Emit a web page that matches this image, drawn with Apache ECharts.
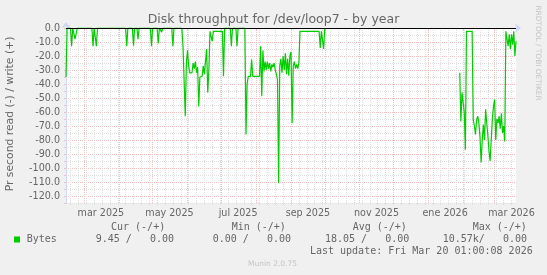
<!DOCTYPE html>
<html><head><meta charset="utf-8">
<script src="https://cdn.jsdelivr.net/npm/echarts@6/dist/echarts.min.js"></script>
<style>html,body{margin:0;padding:0;background:#F0F0F0}#c{width:547px;height:275px}</style>
</head><body><div id="c"></div>
<script>
// ---- data ----
const startDate = '2025-02-13';
const endDate = '2026-03-20';
const monthNames = ['ene','feb','mar','abr','may','jun','jul','ago','sep','oct','nov','dic'];
const yLabelStep = 10;

const readDates = [
 '2025-02-13','2025-02-14','2025-02-17','2025-02-18','2025-02-19','2025-02-20','2025-02-21','2025-02-22','2025-02-23',
 '2025-03-08','2025-03-09','2025-03-10','2025-03-11','2025-03-12','2025-03-13',
 '2025-04-07','2025-04-08','2025-04-09','2025-04-13','2025-04-14','2025-04-15','2025-04-17','2025-04-18','2025-04-19',
 '2025-04-29','2025-04-30','2025-05-01','2025-05-05','2025-05-06','2025-05-07','2025-05-08','2025-05-09','2025-05-10',
 '2025-05-18','2025-05-19','2025-05-20','2025-05-27','2025-05-28','2025-05-29','2025-05-30','2025-05-31',
 '2025-06-01','2025-06-02','2025-06-03','2025-06-04','2025-06-05','2025-06-06','2025-06-07','2025-06-08','2025-06-09',
 '2025-06-10','2025-06-11','2025-06-12','2025-06-13','2025-06-14','2025-06-15','2025-06-16','2025-06-17','2025-06-18',
 '2025-06-19','2025-06-20','2025-06-21','2025-06-22','2025-06-23','2025-06-24',
 '2025-07-02','2025-07-03','2025-07-04','2025-07-09','2025-07-10','2025-07-11','2025-07-14','2025-07-15','2025-07-16',
 '2025-07-22','2025-07-23','2025-07-24','2025-07-25','2025-07-27','2025-07-28','2025-07-29',
 '2025-08-04','2025-08-05','2025-08-06','2025-08-07','2025-08-08','2025-08-09','2025-08-10','2025-08-11','2025-08-12',
 '2025-08-13','2025-08-14','2025-08-15','2025-08-16','2025-08-17','2025-08-18','2025-08-19','2025-08-20','2025-08-21',
 '2025-08-22','2025-08-23','2025-08-24','2025-08-25','2025-08-26','2025-08-27','2025-08-28','2025-08-29','2025-08-30',
 '2025-08-31','2025-09-01','2025-09-02','2025-09-03','2025-09-04','2025-09-05','2025-09-06','2025-09-07','2025-09-08',
 '2025-09-09','2025-09-26','2025-09-27','2025-09-28','2025-09-29','2025-09-30','2025-10-01','2025-10-02',
 '2026-01-29','2026-01-30','2026-01-31','2026-02-01','2026-02-02','2026-02-03','2026-02-04','2026-02-09',
 '2026-02-10','2026-02-11','2026-02-12','2026-02-13','2026-02-14','2026-02-15','2026-02-16','2026-02-17','2026-02-18',
 '2026-02-19','2026-02-20','2026-02-21','2026-02-22','2026-02-23','2026-02-24','2026-02-25','2026-02-26','2026-02-27',
 '2026-02-28','2026-03-01','2026-03-02','2026-03-03','2026-03-04','2026-03-05','2026-03-06','2026-03-07','2026-03-08',
 '2026-03-09','2026-03-10','2026-03-11','2026-03-12','2026-03-13','2026-03-14','2026-03-15','2026-03-16','2026-03-17',
 '2026-03-18','2026-03-19','2026-03-20'
];
const readValues = [
 -35,0,0,-13,0,0,-8,-8,0,
 0,-13,0,0,-13,0,
 0,-13,0,0,-12.7,0,0,-8,0,
 0,-13,0,0,-11,0,-1.5,-3,0,
 0,-13,0,0,-13,-13,-63,-25,
 -16,-27,-32,-32,-32,-25,-29,-24,-32,
 -28,-56,-35,-34.5,-34.5,-27,-33,-24,-15,
 -46,-30,-2.4,-2.4,-9.5,-2.4,
 -2.4,-34.5,0,0,-13,0,0,-13,0,
 0,-76,-40,-34.5,-34.5,-22.6,-34.5,
 -34.5,-13,-48.8,-16,-31,-24,-30,-24,-29,
 -25,-31,-26,-28,-25,-30,-33,-37,-110.7,
 -27,-22,-32,-20,-30,-18,-33,-22,-34,
 -20,-17,-68,-27,-24,-29,-26,-29,-25,
 -2.4,-2.4,-14.3,-2.4,-2.4,-15,0,null,
 -32,-66.7,-46,-46,-60,-87,-2.4,-2.4,
 -65.5,-70,-76,-65.5,-63,-68,-78,-96,-80,
 -69,-80,-58,-68,-77,-88,-95,-95,-65,
 -56,-51,-80,-65,-68,-63,-72,-61,-75,
 -70,-81,-2.4,-2.4,-13,-4.5,-15,-4.5,-12,
 -2.4,-20,-9.45
];

// ---- build ----
const days = [];
for (let t = Date.parse(startDate + 'T00:00:00Z'); t <= Date.parse(endDate + 'T00:00:00Z'); t += 86400000) {
  days.push(new Date(t).toISOString().slice(0, 10));
}
const isMonthStart = (i) => days[i].slice(8) === '01';
const isMonday = (i) => new Date(days[i] + 'T00:00:00Z').getUTCDay() === 1;
const isLabelDay = (i) => days[i].slice(8) === '16' && (parseInt(days[i].slice(5, 7), 10) - 1) % 2 === 0;

const FONT = 'DejaVu Sans';
const MONO = 'DejaVu Sans Mono';
const TXT = '#666666';
const AXIS = '#CFD6F8';
const MGRID = '#EFC0C0';
const GRID = '#DEDEDE';

const chart = echarts.init(document.getElementById('c'), null, { renderer: 'canvas' });
const seriesData = readDates.map((d, i) => [d, readValues[i]]);

chart.setOption({
  animation: false,
  backgroundColor: '#F0F0F0',
  grid: { left: 66, top: 28, width: 450, height: 175, show: true, backgroundColor: '#FFFFFF', borderWidth: 0 },
  xAxis: [
    {
      type: 'category', data: days, boundaryGap: false, position: 'bottom', z: 3,
      axisLine: { show: true, lineStyle: { color: AXIS, width: 1 }, symbol: ['none', 'arrow'], symbolSize: [7, 6], symbolOffset: [0, 5] },
      axisTick: { show: true, interval: (i) => isMonthStart(i), length: 3, lineStyle: { color: MGRID } },
      axisLabel: {
        show: true, interval: (i) => isLabelDay(i), margin: 5,
        formatter: (v) => monthNames[parseInt(v.slice(5, 7), 10) - 1] + ' ' + v.slice(0, 4),
        color: TXT, fontFamily: FONT, fontSize: 9.6
      },
      splitLine: { show: true, interval: (i) => isMonthStart(i), lineStyle: { color: MGRID, type: 'dotted', width: 1 } }
    },
    {
      type: 'category', data: days, boundaryGap: false, position: 'bottom', z: 2,
      axisLine: { show: false },
      axisTick: { show: true, interval: (i) => isMonday(i), length: 2, lineStyle: { color: GRID } },
      axisLabel: { show: false },
      splitLine: { show: true, interval: (i) => isMonday(i), lineStyle: { color: GRID, type: 'dotted', width: 1 } }
    }
  ],
  yAxis: {
    type: 'value', min: -125, max: 0, interval: 5,
    axisLine: { show: true, lineStyle: { color: AXIS, width: 1 }, symbol: ['none', 'arrow'], symbolSize: [7, 6], symbolOffset: [0, 6] },
    axisTick: { show: true, length: 2, lineStyle: { color: MGRID } },
    axisLabel: {
      margin: 6, color: TXT, fontFamily: FONT, fontSize: 9.6,
      formatter: (v) => (Math.round(v) % yLabelStep === 0 ? (v === 0 ? 0 : v).toFixed(1) : '')
    },
    splitLine: { show: true, lineStyle: { color: [GRID, MGRID], type: 'dotted', width: 1 } }
  },
  series: [{
    type: 'line', name: 'Bytes', data: seriesData, xAxisIndex: 0, yAxisIndex: 0,
    showSymbol: false, symbol: 'none', connectNulls: false,
    lineStyle: { color: '#00CC00', width: 1.2 }, itemStyle: { color: '#00CC00' },
    markLine: {
      silent: true, symbol: ['none', 'none'], label: { show: false }, animation: false, z: 10,
      lineStyle: { color: '#000000', type: 'solid', width: 1 },
      data: [{ yAxis: 0 }]
    }
  }],
  graphic: [
    { type: 'text', x: 273.5, y: 19.5, style: { text: 'Disk throughput for /dev/loop7 - by year', fill: TXT, font: '12.5px "' + FONT + '"', textAlign: 'center', textVerticalAlign: 'middle' } },
    { type: 'text', x: 10.5, y: 114, rotation: Math.PI / 2, style: { text: 'Pr second read (-) / write (+)', fill: TXT, font: '10.8px "' + FONT + '"', textAlign: 'center', textVerticalAlign: 'middle' } },
    { type: 'text', x: 538, y: 53, rotation: -Math.PI / 2, style: { text: 'RRDTOOL / TOBI OETIKER', fill: '#C4C4C4', font: '7.4px "' + FONT + '"', textAlign: 'center', textVerticalAlign: 'middle' } },
    { type: 'text', x: 111, y: 227.7, style: { text: 'Cur (-/+)', fill: TXT, font: '10px "' + MONO + '"', textAlign: 'left', textVerticalAlign: 'middle' } },
    { type: 'text', x: 231.7, y: 227.7, style: { text: 'Min (-/+)', fill: TXT, font: '10px "' + MONO + '"', textAlign: 'left', textVerticalAlign: 'middle' } },
    { type: 'text', x: 352.7, y: 227.7, style: { text: 'Avg (-/+)', fill: TXT, font: '10px "' + MONO + '"', textAlign: 'left', textVerticalAlign: 'middle' } },
    { type: 'text', x: 472.7, y: 227.7, style: { text: 'Max (-/+)', fill: TXT, font: '10px "' + MONO + '"', textAlign: 'left', textVerticalAlign: 'middle' } },
    { type: 'rect', shape: { x: 14, y: 236.5, width: 6, height: 6 }, style: { fill: '#00CC00' } },
    { type: 'text', x: 26.7, y: 239.5, style: { text: 'Bytes', fill: TXT, font: '10px "' + MONO + '"', textAlign: 'left', textVerticalAlign: 'middle' } },
    { type: 'text', x: 95.7, y: 239.5, style: { text: '9.45 /   0.00', fill: TXT, font: '10px "' + MONO + '"', textAlign: 'left', textVerticalAlign: 'middle' } },
    { type: 'text', x: 212.7, y: 239.5, style: { text: '0.00 /   0.00', fill: TXT, font: '10px "' + MONO + '"', textAlign: 'left', textVerticalAlign: 'middle' } },
    { type: 'text', x: 325, y: 239.5, style: { text: '18.05 /   0.00', fill: TXT, font: '10px "' + MONO + '"', textAlign: 'left', textVerticalAlign: 'middle' } },
    { type: 'text', x: 442.7, y: 239.5, style: { text: '10.57k/   0.00', fill: TXT, font: '10px "' + MONO + '"', textAlign: 'left', textVerticalAlign: 'middle' } },
    { type: 'text', x: 532.7, y: 251.2, style: { text: 'Last update: Fri Mar 20 01:00:08 2026', fill: TXT, font: '10px "' + MONO + '"', textAlign: 'right', textVerticalAlign: 'middle' } },
    { type: 'text', x: 272.5, y: 264, style: { text: 'Munin 2.0.75', fill: '#C4C4C4', font: '7.5px "' + FONT + '"', textAlign: 'center', textVerticalAlign: 'middle' } }
  ]
});
</script>
</body></html>
